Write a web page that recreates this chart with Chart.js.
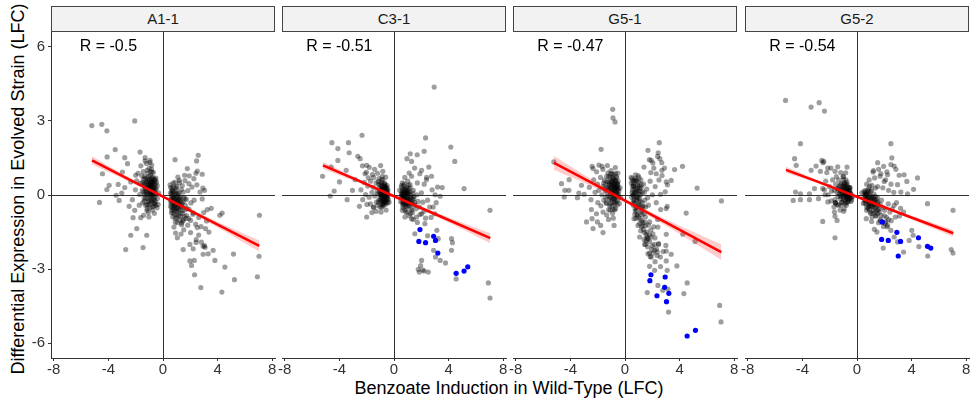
<!DOCTYPE html>
<html>
<head>
<meta charset="utf-8">
<script src="https://cdn.jsdelivr.net/npm/chart.js@4.4.1/dist/chart.umd.min.js"></script>
<style>
  body { margin: 0; background: #fff; width: 970px; height: 402px; position: relative; overflow: hidden;
         font-family: "Liberation Sans", Arial, sans-serif; }
  canvas { position: absolute; }
  .strip { position: absolute; top: 6px; height: 26px; box-sizing: border-box; border: 1px solid #444;
           background: #f2f2f2; font-size: 15px; line-height: 24px; text-align: center; color: #1a1a1a; }
  .title { position: absolute; font-size: 18px; line-height: 18px; color: #000; white-space: nowrap; text-align: center; }
</style>
</head>
<body>
<div class="title" style="left:209px;top:379px;width:600px;">Benzoate Induction in Wild-Type (LFC)</div>
<div class="title" style="left:-182px;top:180px;width:400px;transform:rotate(-90deg);">Differential Expression in Evolved Strain (LFC)</div>
<script>
const facets = ['A1-1', 'C3-1', 'G5-1', 'G5-2'];
const rLabels = ['R = -0.5', 'R = -0.51', 'R = -0.47', 'R = -0.54'];
const rPos = [-4, 6];
const xTicks = [-8, -4, 0, 4, 8];
const yTicks = [-6, -3, 0, 3, 6];
const xRange = [-8.2, 8.2];
const yRange = [-6.6, 6.6];

// fitted line + confidence band
const fitX = [-5.2, -2.6, 0, 3.5, 7.05];
const a11Fit = [1.40, 0.66, -0.07, -1.06, -2.06];
const a11Lo = [1.23, 0.57, -0.12, -1.16, -2.28];
const a11Hi = [1.57, 0.75, -0.02, -0.96, -1.84];
const c31Fit = [1.20, 0.58, -0.05, -0.89, -1.75];
const c31Lo = [1.05, 0.50, -0.10, -0.98, -1.95];
const c31Hi = [1.35, 0.66, 0.00, -0.80, -1.55];
const g51Fit = [1.30, 0.54, -0.23, -1.26, -2.31];
const g51Lo = [1.02, 0.39, -0.31, -1.41, -2.63];
const g51Hi = [1.58, 0.69, -0.15, -1.11, -1.99];
const g52Fit = [1.02, 0.48, -0.07, -0.81, -1.55];
const g52Lo = [0.90, 0.42, -0.11, -0.88, -1.69];
const g52Hi = [1.14, 0.54, -0.03, -0.74, -1.41];

// genes: [wild-type LFC, evolved LFC]
const a11Gray = [
  [-5.21,2.81],[-4.48,2.86],[-4.11,2.60],[-2.07,3.00],[-3.50,1.84],[-4.09,1.54],[-1.68,1.74],[-2.80,1.51],[-2.60,1.27],
  [-1.31,1.51],[-0.95,1.40],[-4.43,0.86],[-2.97,0.93],[-3.28,0.43],[-3.94,0.39],[-4.11,0.22],[-4.65,-0.30],[-3.43,-0.01],
  [-3.21,-0.22],[-3.02,0.08],[-2.48,-0.46],[-2.19,-0.92],[-1.92,-1.36],[-2.36,-1.63],[-1.19,-1.63],[-2.73,-2.21],
  [-1.46,-2.13],[-1.63,-0.92],[-2.07,-0.62],[-2.24,-0.19],[-2.80,0.30],[-2.36,0.53],[-2.00,0.80],[-1.34,0.46],[-0.36,-0.38],
  [0.88,1.43],[2.58,1.61],[2.46,1.38],[1.78,1.07],[2.51,0.97],[2.87,0.84],[3.04,0.19],[2.87,-0.16],[3.53,-0.54],
  [3.24,-0.59],[4.33,-0.73],[4.16,-0.82],[7.06,-0.82],[3.19,-1.05],[3.11,-1.36],[3.36,-1.50],[2.94,-2.08],[3.04,-2.05],
  [3.67,-2.24],[3.31,-2.38],[2.94,-2.40],[3.80,-2.65],[5.16,-2.39],[7.03,-2.48],[4.53,-2.92],[5.23,-3.43],[6.91,-3.31],
  [2.77,-3.75],[4.31,-3.93],[2.31,-3.23],[1.97,-2.67],[2.29,-2.65],[2.09,-2.85],[1.48,-2.21],[1.05,-1.73],[0.92,-1.54],
  [1.97,-2.00],[2.43,-1.81],[2.51,-1.32],[1.36,-1.13],[0.80,-1.30],[1.00,-0.92],[2.19,-0.78],[1.90,0.46],[2.26,0.66],
  [1.19,0.59],[1.58,0.80],[0.56,0.30],
  [-1.62,1.18],[-1.45,0.95],[-1.21,1.28],[-1.02,1.08],[-0.83,1.21],[-1.55,0.78],[-1.33,0.66],[-1.12,0.88],[-0.92,0.79],
  [-0.71,0.92],[-0.52,0.68],[-1.66,0.47],[-1.41,0.41],[-1.18,0.52],[-0.98,0.61],[-0.79,0.49],[-0.61,0.55],[-0.42,0.37],
  [-1.52,0.18],[-1.29,0.23],[-1.08,0.31],[-0.88,0.34],[-0.69,0.19],[-0.49,0.24],[-0.31,0.08],[-1.71,0.02],[-1.38,-0.12],
  [-1.17,0.04],[-0.97,0.12],[-0.78,0.01],[-0.58,-0.08],[-0.41,-0.14],[-1.48,-0.31],[-1.27,-0.42],[-1.06,-0.28],
  [-0.87,-0.19],[-0.68,-0.33],[-0.51,-0.42],[-1.18,-0.63],[-0.96,-0.52],[-0.77,-0.61],[-0.63,-0.74],[-1.09,0.42],
  [-0.86,0.63],[-0.66,0.41],[-0.81,0.22],[-1.01,0.19],[-0.59,0.31],[-0.91,-0.03],[-1.23,0.16],[-0.73,0.71],[-1.31,1.38],
  [-1.83,0.88],[-1.92,0.57],[-2.02,0.21],[-1.74,-0.41],[-1.42,-0.82],[-1.03,-0.89],[-0.44,-0.52],[-0.95,0.45],
  [-0.74,0.35],[-0.85,0.08],[-1.12,0.62],[-0.62,0.12],[-0.94,0.28],[-1.36,0.02],[-0.55,0.44],[-0.71,-0.12],[-1.15,-0.14],
  [-0.88,0.52],
  [-1.05,0.35],[-0.92,0.18],[-0.78,0.42],[-0.66,0.28],[-0.88,0.55],[-1.14,0.26],[-0.97,-0.08],[-0.72,0.08],[-0.84,-0.26],
  [-1.26,0.48],[-1.04,0.74],[-0.62,-0.21],[-0.53,0.04],[-0.81,0.92],[-1.19,-0.38],[-0.93,0.41],[-0.76,0.57],[-1.32,0.31],
  [-0.68,-0.45],[-0.99,-0.22],[-1.44,0.62],[-0.57,0.62],[-0.86,0.31],[-1.11,0.05],[-0.74,-0.02],[-0.47,0.52],
  [-1.37,-0.25],[-0.96,1.32],[-1.07,-0.71],[-0.82,0.70],
  [-1.25,0.10],[-1.10,0.55],[-0.95,-0.35],[-0.80,0.15],[-0.65,0.62],[-1.35,0.75],[-1.15,-0.55],[-0.70,-0.20],[-0.90,0.95],
  [-1.00,0.38],[-0.58,0.20],[-1.20,0.68],[-0.76,-0.48],[-1.42,0.12],[-0.86,0.42],[-0.62,-0.36],[-1.05,-0.40],
  [-1.28,-0.15],[-0.72,0.50],[-0.98,0.02],[-1.50,0.50],[-0.54,-0.28],[-0.84,1.05],[-1.16,1.00],[-0.68,0.06],
  [0.52,0.41],[0.68,0.18],[0.61,-0.08],[0.82,-0.31],[0.91,0.02],[1.03,-0.22],[1.12,-0.51],[0.72,-0.48],[1.19,0.09],
  [1.31,-0.28],[1.42,-0.62],[1.01,-0.79],[1.51,-0.12],[1.63,-0.41],[1.72,-0.83],[1.22,-1.02],[1.82,0.18],[1.91,-0.58],
  [2.02,-1.03],[1.41,0.38],[0.88,0.51],[1.09,0.72],[1.61,0.58],[2.12,0.32],[2.28,-0.21],[2.21,-0.72],[2.39,-1.18],
  [2.62,-0.91],[1.81,-1.22],[1.52,-1.41],[2.02,-1.52],[2.61,-1.62],[2.78,-1.28],[0.58,-0.31],[0.79,-0.09],[0.98,0.21],
  [1.28,-0.08],[0.92,-0.62],[1.18,-0.38],[1.71,-0.18],[0.74,-0.24],[0.96,-0.36],[1.14,-0.16],[1.36,-0.46],[0.55,0.09],
  [2.48,0.41],[2.71,0.12],[2.92,0.28],[2.41,0.88],[1.92,0.78],[2.81,-1.91],[3.08,-2.12],[2.42,-1.92],[1.32,-1.58],
  [0.71,-0.88],[2.98,-0.71],[2.21,-2.18],[0.85,-0.45],[1.05,-0.05],[0.65,-0.62],[1.25,-0.72],[1.55,-0.85],[0.78,0.32],
  [1.48,0.12],[2.05,-0.32],[0.88,-0.18],
  [0.72,-0.12],[0.84,-0.42],[0.95,-0.08],[1.08,-0.33],[0.62,0.06],[0.76,0.11],[0.98,-0.55],[1.16,-0.62],[0.68,-0.36],
  [0.87,0.14],[1.24,-0.21],[1.05,-0.68],[0.57,-0.18],[1.38,-0.35],[0.93,-0.27],[1.12,0.05],[0.81,-0.55],[1.29,-0.86],
  [1.46,-0.28],[0.66,0.28],[1.02,0.35],[1.57,-0.62],[0.74,-0.72],[1.19,-0.12],[0.89,-0.95],[1.34,0.22],[0.61,-0.52],
  [1.45,-1.05],[1.68,-0.95],[1.06,-1.12],
  [0.60,-0.25],[0.78,-0.60],[0.90,-0.40],[1.00,0.05],[1.15,-0.85],[0.70,0.00],[0.85,-0.78],[1.30,-0.50],[0.55,-0.45],
  [1.10,-0.25],[0.95,0.30],[1.40,-0.75],[0.66,0.16],[1.22,-0.42],[0.80,-0.15],[1.05,-0.55],[1.60,-0.15],[0.74,0.48],
  [1.50,-1.00],[1.20,0.50],[0.90,-1.10],[1.75,-0.55],[0.62,-0.72],[1.36,-1.20],[1.88,-0.95]
];
const a11Blue = [];

const c31Gray = [
  [2.94,4.37],[-2.34,2.42],[-4.55,2.12],[-3.33,2.12],[-4.11,1.88],[-3.28,1.71],[2.31,2.31],[4.16,1.94],[4.45,1.36],
  [1.19,1.67],[1.70,1.63],[2.21,1.77],[0.95,1.47],[1.29,1.36],[2.02,1.00],[2.55,1.13],[2.75,0.76],[2.38,0.62],
  [3.19,0.32],[3.53,0.30],[3.38,-0.05],[5.13,0.26],[7.03,-0.62],[-5.23,0.76],[-4.60,1.13],[-4.11,1.40],[-3.99,0.53],
  [-4.38,0.16],[-4.67,-0.04],[-3.43,-0.19],[-3.04,0.19],[-2.85,0.62],[-2.65,1.57],[-2.48,1.47],[-2.00,1.20],[-2.12,0.86],
  [-2.53,-0.46],[-2.00,-0.89],[-0.95,-0.69],[-1.51,-0.49],[-3.50,1.00],
  [1.53,-1.57],[2.46,-1.65],[3.14,-1.43],[3.24,-1.77],[4.21,-1.77],[4.28,-1.93],[4.21,-2.24],[2.90,-2.24],[3.04,-2.51],
  [3.38,-2.65],[3.77,-2.75],[2.02,-2.65],[1.95,-2.86],[1.78,-3.01],[1.85,-3.12],[2.21,-3.08],[2.51,-3.12],[2.11,-3.04],
  [4.55,-3.40],[6.91,-3.56],[7.03,-4.17],[1.29,-0.96],[1.65,-0.89],[2.02,-0.76],[2.26,-1.16],[2.87,-0.49],[2.99,-0.76],
  [0.61,-0.62],[0.80,-0.89],
  [-2.31,1.18],[-2.02,0.92],[-1.81,1.12],[-1.58,0.83],[-1.42,1.04],[-1.21,0.88],[-0.98,1.19],[-0.82,0.96],[-0.61,0.72],
  [-2.18,0.51],[-1.92,0.36],[-1.71,0.56],[-1.52,0.31],[-1.31,0.49],[-1.12,0.44],[-0.91,0.61],[-0.72,0.41],[-0.51,0.29],
  [-2.08,0.02],[-1.82,-0.09],[-1.61,0.11],[-1.41,-0.04],[-1.22,0.16],[-1.01,0.21],[-0.79,0.09],[-0.62,0.04],[-0.41,0.01],
  [-1.98,-0.38],[-1.72,-0.36],[-1.48,-0.51],[-1.29,-0.29],[-1.11,-0.21],[-0.92,-0.11],[-0.71,-0.24],[-0.52,-0.16],
  [-0.36,-0.29],[-1.62,-0.71],[-1.31,-0.66],[-1.02,-0.49],[-0.81,-0.44],[-0.58,-0.61],[-0.88,0.31],[-0.76,0.24],
  [-0.61,0.32],[-0.86,-0.06],[-0.69,0.01],[-0.54,-0.04],[-0.96,0.09],[-0.81,-0.21],[-0.66,-0.09],[-0.49,0.16],[-0.91,0.41],
  [-1.04,0.02],[-0.74,0.14],[-0.61,-0.26],[-0.46,-0.31],[-1.19,-0.41],[-1.09,0.66],[-0.86,0.76],[-1.49,0.71],[-1.88,0.69],
  [-2.42,0.21],[-2.29,-0.19],[-0.72,-0.05],[-0.83,0.18],[-0.58,0.12],[-0.95,-0.28],[-0.68,0.28],[-0.78,-0.32],
  [-0.72,0.05],[-0.65,-0.12],[-0.82,0.12],[-0.58,0.18],[-0.90,-0.02],[-0.68,0.32],[-0.52,-0.20],[-0.78,-0.28],
  [-0.95,0.22],[-0.62,0.08],[-0.48,0.06],[-0.85,0.38],[-0.74,-0.18],[-1.02,-0.15],[-0.56,-0.35],[-0.66,0.44],
  [-0.88,-0.38],[-0.42,-0.18],[-0.79,0.00],[-0.70,0.16],[-0.60,-0.02],[-1.08,0.30],[-0.92,0.50],[-0.50,0.38],
  [-0.84,-0.12],[-0.64,-0.30],[-0.76,0.24],[-1.12,-0.30],[-0.98,0.02],[-0.55,0.26],[-0.71,-0.40],[-0.87,0.06],
  [-0.45,-0.08],[-1.00,0.42],[-0.67,0.00],
  [-0.75,0.10],[-0.62,-0.18],[-0.88,0.25],[-0.52,0.12],[-0.80,-0.35],[-1.05,0.12],[-0.66,0.35],[-0.95,-0.20],
  [-0.58,-0.08],[-0.70,0.48],[-1.15,0.55],[-0.82,0.62],[-0.44,0.20],[-1.20,0.05],[-0.90,-0.50],
  [0.41,0.19],[0.56,0.01],[0.49,-0.26],[0.71,0.16],[0.76,-0.09],[0.81,-0.36],[0.89,0.26],[0.96,0.04],[1.01,-0.21],
  [1.06,-0.44],[1.16,0.11],[1.21,-0.11],[1.24,-0.34],[1.31,-0.61],[1.41,0.19],[1.46,-0.06],[1.51,-0.31],[1.61,-0.56],
  [1.69,0.01],[1.76,-0.26],[1.86,-0.49],[1.91,-0.79],[2.01,0.09],[2.11,-0.29],[2.19,-0.66],[2.31,-0.94],[2.46,-0.21],
  [2.61,-0.49],[2.71,-0.91],[2.79,0.21],[3.01,0.01],[3.09,-0.31],[0.61,0.49],[0.79,0.71],[1.01,0.56],[1.11,0.89],
  [1.29,0.76],[1.51,1.09],[1.71,0.49],[1.89,0.86],[2.21,0.44],[2.39,0.71],[0.66,-0.51],[0.86,-0.69],[1.11,-0.84],
  [1.41,-0.99],[1.71,-1.11],[0.61,0.09],[0.71,-0.06],[0.86,0.06],[0.99,0.11],[0.66,-0.16],[0.91,-0.14],[1.09,-0.29],
  [0.81,0.21],[1.19,0.29],[0.56,0.31],[1.36,-0.19],[0.74,0.02],[0.94,-0.24],[0.69,-0.31],[1.04,0.18],
  [0.62,0.02],[0.74,-0.14],[0.85,0.12],[0.95,-0.08],[1.05,0.06],[0.68,-0.28],[0.88,-0.26],[1.12,-0.18],[0.58,0.16],
  [0.78,0.24],[1.00,-0.36],[1.22,0.02],[0.70,0.38],[0.92,0.32],[1.30,-0.30],[0.52,-0.12],[0.82,-0.02],[1.15,-0.42],
  [0.65,-0.42],[1.38,0.08],[0.96,0.14],[0.75,-0.36],[1.08,0.24],[1.45,-0.15],[0.60,-0.05],[0.86,-0.46],[1.25,-0.56],
  [0.72,0.08],[1.02,-0.16],[0.55,0.38],[1.18,0.42],[1.55,-0.42],[0.80,-0.60],[0.98,-0.70],[1.35,-0.72],
  [0.70,-0.10],[0.88,0.08],[0.60,-0.32],[1.02,-0.04],[0.80,-0.22],[0.66,0.22],[1.12,-0.30],[0.94,-0.50],[1.28,-0.12],
  [0.55,0.05],[1.40,-0.38],[0.76,0.45],[1.05,0.40],[0.90,-0.32],[1.20,-0.75]
];
const c31Blue = [
  [1.90,-1.40],[1.82,-1.88],[2.31,-1.93],[2.90,-1.67],[3.04,-1.84],[3.21,-2.35],[4.55,-3.17],[5.13,-3.08],[5.40,-2.91]
];

const g51Gray = [
  [-0.90,3.47],[-0.88,3.12],[-0.73,2.96],[-1.75,1.85],[-5.21,1.34],[-4.65,0.46],[-4.09,0.62],[-4.40,0.19],[-4.45,-0.08],
  [-4.11,0.19],[-3.48,-0.11],[-3.19,0.39],[-3.38,0.08],[-2.82,-1.09],[-2.41,-0.96],[-2.34,-1.36],[-2.02,-1.09],
  [-1.61,-1.52],[-1.78,-1.23],[-0.80,-1.23],[-2.46,-0.59],[-2.09,-0.76],[-2.99,0.03],[-2.34,1.07],[-1.68,1.16],
  [2.51,2.12],[1.68,1.81],[2.43,1.71],[1.78,1.43],[1.92,1.40],[2.55,1.47],[1.39,1.13],[2.04,1.30],[2.70,1.00],[3.63,1.03],
  [4.21,1.16],[3.38,0.59],[5.28,0.28],[7.06,-0.24],[0.51,0.66],[0.46,0.49],[3.02,0.53],[2.94,0.13],[2.60,0.03],
  [3.09,-0.46],[3.02,-0.55],[4.48,-0.73],[3.02,-1.59],[4.23,-1.59],[5.13,-1.88],[0.66,-0.96],[0.95,-1.23],[1.07,-1.70],
  [1.44,-2.00],[1.68,-2.38],[1.92,-2.51],[2.36,-2.31],[3.02,-2.27],[3.38,-2.40],[3.80,-2.87],[3.02,-2.67],[1.80,-2.89],
  [2.17,-3.05],[3.09,-3.05],[4.55,-3.56],[4.31,-3.99],[1.63,-3.95],[2.41,-3.66],[2.77,-3.86],[3.14,-3.81],[3.19,-4.74],
  [6.93,-4.47],[7.03,-5.14],[2.17,-2.24],[2.46,-1.97],[1.63,-1.77],[2.04,-1.57],[2.41,-1.30],[1.80,-1.09],
  [-2.41,1.16],[-2.08,0.94],[-1.91,1.21],[-1.62,1.04],[-1.29,1.19],[-1.02,0.99],[-0.71,1.11],[-0.52,0.89],[-2.29,0.61],
  [-2.01,0.44],[-1.79,0.71],[-1.56,0.49],[-1.34,0.76],[-1.16,0.54],[-0.94,0.71],[-0.76,0.59],[-0.56,0.46],[-0.36,0.29],
  [-2.19,0.11],[-1.91,0.19],[-1.69,0.01],[-1.51,0.26],[-1.31,0.09],[-1.09,0.31],[-0.91,0.19],[-0.69,0.26],[-0.51,0.04],
  [-0.31,-0.11],[-1.99,-0.31],[-1.76,-0.44],[-1.54,-0.21],[-1.36,-0.34],[-1.14,-0.16],[-0.96,-0.29],[-0.74,-0.11],
  [-0.56,-0.24],[-1.61,-0.69],[-1.34,-0.81],[-1.09,-0.61],[-0.91,-0.74],[-0.69,-0.56],[-1.21,-0.99],[-0.86,-0.94],
  [-1.01,0.41],[-0.79,0.44],[-0.61,0.36],[-1.19,0.39],[-0.89,0.06],[-0.71,0.01],[-0.54,0.21],[-1.04,0.16],[-0.81,-0.16],
  [-0.66,0.54],[-1.41,0.44],[-0.44,0.16],[-0.84,0.84],[-1.06,0.86],[-2.61,0.31],[-2.49,-0.19],[-0.41,-0.34],
  [-0.78,0.29],[-0.95,0.52],[-0.62,0.11],[-1.22,0.21],[-0.86,0.36],[-0.72,-0.31],[-1.12,-0.44],[-0.58,0.31],
  [-0.82,0.22],[-0.68,0.12],[-0.95,0.35],[-0.74,0.42],[-1.06,0.05],[-0.60,-0.05],[-0.88,-0.12],[-1.16,0.28],[-0.70,0.60],
  [-0.52,0.38],[-0.98,0.55],[-1.25,-0.05],[-0.78,-0.28],[-0.46,-0.02],[-1.10,-0.36],[-0.62,0.26],[-0.90,0.12],
  [-1.32,0.55],[-0.56,-0.40],[-0.84,0.68],[-1.02,-0.20],[-0.72,-0.05],[-1.45,0.18],[-0.95,-0.45],[-0.64,0.75],
  [-1.20,0.75],[-0.80,0.38],[-0.50,0.55],[-1.38,-0.30],[-0.76,-0.60],
  [-1.00,0.25],[-0.85,-0.02],[-0.70,0.30],[-1.15,0.50],[-0.90,0.62],[-0.60,0.08],[-1.30,0.30],[-0.75,-0.40],
  [-1.05,-0.10],[-0.55,0.45],[-0.95,0.85],[-1.25,0.90],[-0.65,-0.22],[-1.50,0.60],[-0.80,0.15],[-1.10,0.72],
  [-0.48,0.25],[-1.40,-0.10],[-0.88,-0.58],[-0.70,0.88],[-1.60,0.35],[-1.20,-0.60],[-0.60,0.70],[-1.02,0.46],[-0.78,0.50],
  [0.45,0.71],[0.61,0.49],[0.54,0.21],[0.49,-0.09],[0.61,-0.41],[0.76,0.66],[0.79,0.34],[0.71,0.06],[0.86,-0.21],
  [0.74,-0.54],[0.96,0.79],[1.01,0.51],[0.94,0.16],[1.06,-0.14],[0.96,-0.46],[1.16,0.61],[1.19,0.29],[1.14,0.01],
  [1.26,-0.31],[1.21,-0.64],[1.36,0.44],[1.41,0.11],[1.44,-0.21],[1.51,-0.49],[1.59,0.24],[1.66,-0.11],[1.71,-0.41],
  [0.89,-0.81],[1.11,-0.96],[1.31,-1.11],[1.49,-0.89],[1.71,-1.21],[1.89,-1.41],[1.21,-1.29],[1.41,-1.51],[1.61,-1.69],
  [1.81,-1.89],[2.01,-2.06],[2.19,-1.74],[2.31,-2.19],[2.59,-2.51],[2.79,-2.29],[2.99,-2.04],[1.51,-1.99],[1.79,-1.61],
  [2.11,-1.29],[2.39,-0.99],[1.89,0.91],[2.11,1.09],[2.29,0.86],[1.84,0.56],[2.21,0.34],[2.49,0.61],[2.71,0.79],
  [2.89,1.09],[2.01,0.01],[2.29,-0.31],[2.61,-0.59],[3.11,0.41],[2.39,1.56],[2.69,1.31],[0.66,0.24],[0.81,0.11],
  [0.69,-0.19],[0.91,0.41],[1.01,-0.31],[0.84,0.59],[0.58,0.02],[0.88,-0.05],[1.08,0.26],[0.64,0.36],[1.29,-0.49],
  [0.62,0.38],[0.74,0.12],[0.86,-0.12],[0.70,-0.35],[0.92,0.28],[1.04,0.05],[0.58,0.58],[0.80,0.55],[1.10,-0.25],
  [0.66,-0.05],[0.98,-0.40],[1.18,0.42],[0.52,0.10],[0.84,-0.62],[1.26,0.12],[0.76,0.82],[1.02,0.70],[0.60,-0.22],
  [1.32,-0.45],[0.90,-0.80],[1.12,-0.72],[0.72,-0.78],[1.40,-0.75],[1.22,-1.05],[1.50,-1.25],[1.08,-1.15],[1.35,-1.40],
  [1.60,-1.50],[1.70,-1.78],[1.90,-1.70],[1.95,-2.20],[2.15,-2.00],[2.35,-2.45],[1.55,-1.85],[1.80,-2.35],
  [0.55,0.35],[0.70,0.60],[0.65,-0.30],[0.82,0.20],[0.95,-0.10],[0.60,0.00],[0.88,-0.50],[1.05,0.35],[0.75,-0.65],
  [1.15,-0.50],[0.98,-0.90],[1.25,-0.80],[1.08,0.15],[0.80,-0.95],[1.30,-1.25],[1.45,-1.10],[1.15,-1.45],[1.55,-1.60],
  [1.40,-1.80],[1.65,-2.10],[1.85,-2.50],[2.05,-2.35],[2.20,-2.70],[2.45,-2.00],[2.60,-2.90]
];
const g51Blue = [
  [1.90,-3.23],[1.82,-3.47],[2.94,-3.32],[2.90,-3.74],[3.21,-3.98],[2.34,-4.08],[3.04,-4.32],[5.16,-5.48],[4.55,-5.71]
];

const g52Gray = [
  [-5.23,3.83],[-3.36,3.56],[-2.77,3.74],[-2.38,3.40],[-4.14,2.08],[-4.57,1.47],[-4.45,1.20],[-3.36,1.00],[-3.00,1.17],
  [-2.58,1.40],[-2.43,1.36],[-2.14,1.09],[-2.68,0.96],[-4.67,-0.22],[-4.50,0.12],[-4.14,0.05],[-4.14,-0.19],[-3.48,0.05],
  [-3.48,-0.19],[-2.82,-0.15],[-3.11,0.26],[-2.51,0.26],[-2.34,0.01],[-2.14,-0.28],[-0.73,1.13],[-0.83,0.90],
  [-2.51,-1.07],[-1.65,-0.69],[-1.61,-0.86],[-1.46,-1.03],[-1.61,-1.73],[-1.46,-0.39],[-0.97,-0.66],[-1.58,-0.31],
  [-1.58,-0.31],[-1.56,-0.33],
  [2.48,2.08],[2.55,1.50],[1.95,1.16],[1.51,1.31],[2.48,1.23],[2.72,1.17],[2.85,1.04],[3.45,0.82],[4.14,0.23],[4.43,0.69],
  [5.16,-0.35],[7.03,-0.62],[1.17,0.93],[1.75,0.86],[2.24,0.82],[3.09,0.80],[1.99,0.55],[2.97,0.42],[3.65,0.55],
  [3.70,0.05],[3.21,0.12],[2.72,-0.42],[3.41,-0.69],[3.11,-0.85],[4.01,-1.43],[4.11,-1.63],[3.82,-1.84],[3.41,-2.31],
  [4.53,-2.09],[5.18,-2.47],[6.90,-2.21],[7.03,-2.35],[1.92,-2.15],[1.46,-1.50],[2.48,-1.43],[2.24,-1.23],[2.72,-1.70],
  [2.97,-1.90],[1.07,-1.07],[0.68,-0.96],[1.27,-1.39],
  [-2.49,1.31],[-2.21,0.91],[-1.91,1.09],[-1.61,0.96],[-1.41,1.14],[-1.19,0.91],[-1.01,0.74],[-0.81,0.61],[-2.29,0.56],
  [-2.01,0.34],[-1.79,0.61],[-1.56,0.44],[-1.34,0.61],[-1.16,0.46],[-0.94,0.49],[-0.76,0.36],[-0.56,0.31],[-2.11,0.01],
  [-1.86,0.16],[-1.66,0.19],[-1.44,0.26],[-1.24,0.14],[-1.06,0.24],[-0.84,0.11],[-0.66,0.16],[-0.46,0.06],[-0.31,-0.06],
  [-1.89,-0.24],[-1.61,-0.19],[-1.39,-0.06],[-1.21,-0.16],[-0.99,-0.04],[-0.79,-0.14],[-0.61,-0.09],[-0.44,-0.26],
  [-1.69,-0.49],[-1.34,-0.41],[-1.11,-0.29],[-0.89,-0.36],[-0.71,-0.29],[-1.24,-0.61],[-0.94,-0.56],[-1.09,0.09],
  [-0.91,0.29],[-0.69,0.04],[-0.54,0.14],[-1.29,0.36],[-0.81,-0.06],[-0.59,0.01],[-0.99,0.61],[-1.51,0.74],[-2.39,0.21],
  [-0.41,-0.11],[-0.74,0.21],[-0.88,0.02],[-0.64,-0.19],[-1.02,0.36],[-0.52,-0.14],[-1.16,-0.04],[-0.72,0.42],
  [-0.78,0.08],[-0.66,-0.04],[-0.92,0.16],[-0.56,0.10],[-1.02,-0.12],[-0.70,0.28],[-0.86,-0.22],[-0.50,-0.06],
  [-1.14,0.18],[-0.62,-0.26],[-0.96,0.36],[-0.74,-0.10],[-1.22,-0.04],[-0.44,0.04],[-0.82,0.44],[-1.06,0.26],
  [-0.58,0.30],[-0.90,-0.02],[-1.30,0.06],[-0.68,0.14],[-0.80,-0.32],[-1.12,-0.30],[-0.52,0.22],[-0.98,0.10],
  [-0.62,0.02],[-1.40,0.28],[-0.74,0.52],[-1.20,0.42],[-0.88,0.24],[-0.40,-0.20],
  [-0.72,0.00],[-0.86,0.12],[-0.60,0.20],[-0.98,-0.20],[-0.80,0.30],[-1.08,0.10],[-0.66,-0.18],[-0.92,0.45],
  [-1.25,0.22],[-0.55,-0.02],[-1.45,0.10],[-0.78,-0.42],[-1.18,-0.42],[-1.00,0.75],[-0.50,0.30],
  [0.36,0.09],[0.49,-0.11],[0.46,-0.34],[0.61,0.19],[0.64,-0.21],[0.71,-0.49],[0.79,0.01],[0.86,-0.31],[0.91,-0.59],
  [0.99,0.14],[1.04,-0.16],[1.11,-0.39],[1.16,-0.74],[1.24,0.04],[1.31,-0.26],[1.34,-0.54],[1.41,-0.84],[1.49,-0.11],
  [1.56,-0.41],[1.64,-0.69],[1.71,-0.99],[1.79,-0.21],[1.91,-0.51],[1.99,-0.84],[2.11,-1.09],[2.29,-0.36],[2.41,-0.69],
  [2.59,-0.56],[2.81,-0.89],[2.89,-0.31],[3.19,-0.54],[0.71,0.44],[0.89,0.61],[1.09,0.39],[1.29,0.69],[1.51,0.34],
  [1.69,0.76],[1.89,0.29],[2.09,0.61],[2.31,0.19],[2.49,0.44],[2.69,0.11],[1.21,0.99],[1.59,1.04],[2.19,0.94],
  [0.56,0.04],[0.74,-0.11],[0.94,-0.06],[0.66,-0.36],[0.84,0.14],[1.19,-0.11],[0.99,-0.29],[0.61,-0.06],[1.39,-0.19],
  [2.21,-1.29],[2.51,-1.04],[0.81,-0.21],[1.06,-0.46],[0.69,0.06],[1.26,-0.36],[0.89,-0.44],[1.46,-0.64],
  [0.62,-0.02],[0.78,-0.24],[0.90,0.04],[1.02,-0.44],[1.14,-0.06],[0.70,-0.62],[0.86,-0.48],[1.28,-0.40],[0.58,-0.30],
  [1.06,0.20],[1.20,-0.62],[1.42,-0.46],[0.76,0.18],[0.96,-0.68],[1.36,-0.06],[1.52,-0.28],[1.62,-0.56],[0.50,0.14],
  [1.10,-0.88],[1.30,-0.70],[1.50,-0.76],[1.76,-0.82],[1.86,-1.10],[0.82,-0.10],[0.98,-0.22],[1.18,-0.26],[0.68,0.04],
  [1.70,-0.38],[2.02,-0.62],[1.94,-1.28],[2.16,-0.90],[1.58,-1.12],[0.92,0.36],[1.34,0.28],[2.30,-1.00],
  [0.72,-0.15],[0.90,-0.35],[1.05,-0.10],[0.80,-0.55],[1.20,-0.50],[0.62,0.10],[1.35,-0.85],[1.00,-0.75],[1.55,-0.60],
  [0.85,0.25],[1.25,-0.18],[1.70,-1.05],[1.45,-0.30],[0.55,-0.20],[2.05,-1.15]
];
const g52Blue = [
  [1.85,-1.09],[2.92,-1.51],[1.80,-1.80],[2.29,-1.84],[3.19,-1.88],[4.50,-1.73],[5.16,-2.08],[5.40,-2.15],[3.02,-2.47]
];

const grays = [a11Gray, c31Gray, g51Gray, g52Gray];
const blues = [a11Blue, c31Blue, g51Blue, g52Blue];
const fits = [a11Fit, c31Fit, g51Fit, g52Fit];
const los = [a11Lo, c31Lo, g51Lo, g52Lo];
const his = [a11Hi, c31Hi, g51Hi, g52Hi];

// layout in page pixels
const panelLeft = [51, 282, 513, 745];
const panelW = 224, plotTop = 32, plotH = 326;
const yAxisW = 51, xAxisH = 32, sidePad = 10;

Chart.defaults.font.family = '"Liberation Sans", Arial, sans-serif';

const rLabelPlugin = {
  id: 'rLabel',
  afterDatasetsDraw(chart, args, opts) {
    const { ctx, scales: { x, y } } = chart;
    ctx.save();
    ctx.font = '16px "Liberation Sans", Arial, sans-serif';
    ctx.fillStyle = '#000';
    ctx.textAlign = 'center';
    ctx.textBaseline = 'middle';
    ctx.fillText(opts.text, x.getPixelForValue(rPos[0]), y.getPixelForValue(rPos[1]));
    ctx.restore();
  }
};

const toXY = arr => arr.map(p => ({ x: p[0], y: p[1] }));
const onFit = vals => vals.map((v, i) => ({ x: fitX[i], y: v }));
const zeroOnly = c => (c.tick && c.tick.value === 0) ? '#333' : 'rgba(0,0,0,0)';

facets.forEach((name, i) => {
  let strip = document.createElement('div');
  strip.className = 'strip';
  strip.style.left = panelLeft[i] + 'px';
  strip.style.width = panelW + 'px';
  strip.textContent = name;
  document.body.appendChild(strip);

  let first = i === 0;
  let leftExtra = first ? yAxisW : sidePad;
  let canvas = document.createElement('canvas');
  canvas.width = leftExtra + panelW + sidePad;
  canvas.height = plotH + xAxisH;
  canvas.style.left = (panelLeft[i] - leftExtra) + 'px';
  canvas.style.top = plotTop + 'px';
  document.body.appendChild(canvas);

  let datasets = [
    { type: 'scatter', data: toXY(blues[i]), backgroundColor: '#0000ff', pointRadius: 2.6, borderWidth: 0, order: 0 },
    { type: 'line', data: onFit(fits[i]), borderColor: '#ff0000', borderWidth: 2.5, pointRadius: 0, fill: false, order: 1 },
    { type: 'line', data: onFit(los[i]), borderWidth: 0, pointRadius: 0, fill: false, tension: 0.4, order: 2 },
    { type: 'line', data: onFit(his[i]), borderWidth: 0, pointRadius: 0, fill: '-1', tension: 0.4,
      backgroundColor: 'rgba(255,0,0,0.2)', order: 2 },
    { type: 'scatter', data: toXY(grays[i]), backgroundColor: 'rgba(0,0,0,0.38)', pointRadius: 2.6, borderWidth: 0, order: 3 }
  ];

  new Chart(canvas, {
    data: { datasets },
    plugins: [rLabelPlugin],
    options: {
      responsive: false,
      animation: false,
      devicePixelRatio: 1,
      layout: { autoPadding: false, padding: { left: first ? 0 : sidePad, right: sidePad, top: 0, bottom: 0 } },
      elements: { point: { hoverRadius: 0, hitRadius: 0 } },
      plugins: { legend: { display: false }, tooltip: { enabled: false }, rLabel: { text: rLabels[i] } },
      scales: {
        x: {
          type: 'linear', min: xRange[0], max: xRange[1],
          afterBuildTicks: s => { s.ticks = xTicks.map(v => ({ value: v })); },
          afterFit: s => { s.height = xAxisH; s.paddingLeft = 0; s.paddingRight = 0; },
          ticks: { font: { size: 15 }, color: '#333', padding: 0, maxRotation: 0 },
          grid: { color: zeroOnly, lineWidth: 1, tickLength: 3, tickColor: '#333' },
          border: { display: true, color: '#333', width: 1 }
        },
        y: {
          type: 'linear', min: yRange[0], max: yRange[1],
          afterBuildTicks: s => { s.ticks = yTicks.map(v => ({ value: v })); },
          afterFit: s => { s.width = first ? yAxisW : 0; s.paddingTop = 0; s.paddingBottom = 0; },
          ticks: { display: first, font: { size: 15 }, color: '#333', padding: 3 },
          grid: { color: zeroOnly, lineWidth: 1, drawTicks: first, tickLength: 3, tickColor: '#333' },
          border: { display: first, color: '#333', width: 1 }
        }
      }
    }
  });
});
</script>
</body>
</html>
